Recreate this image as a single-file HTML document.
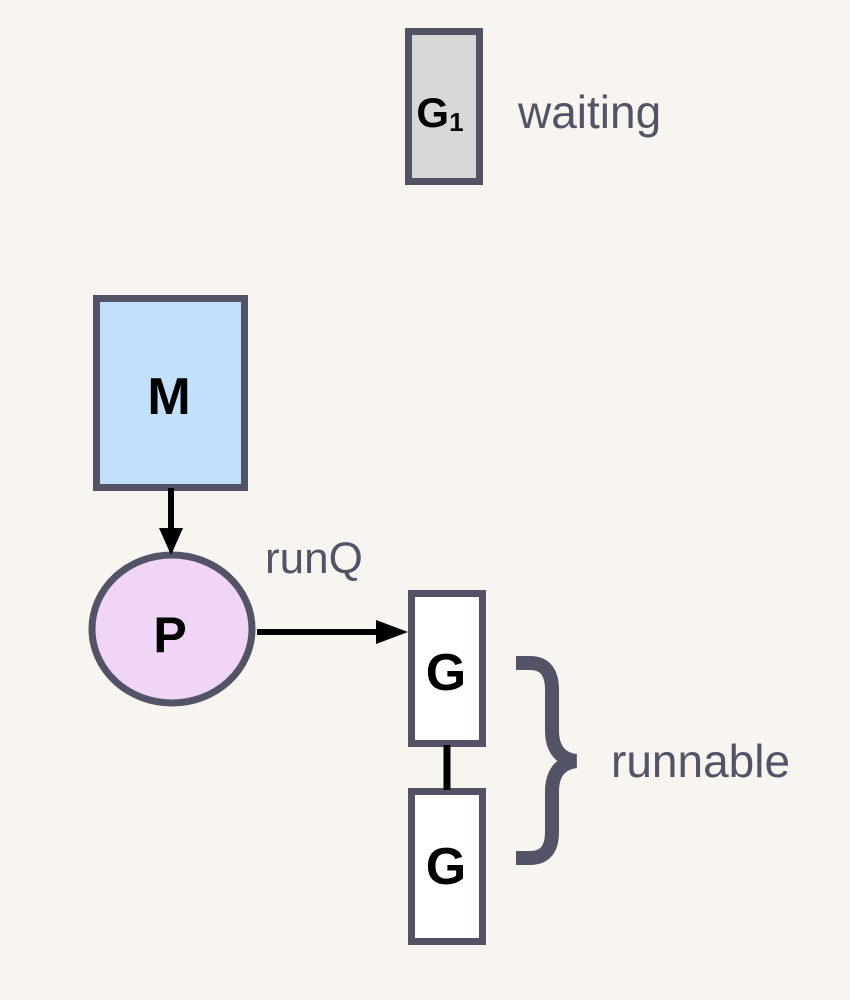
<!DOCTYPE html>
<html><head><meta charset="utf-8"><style>
html,body{margin:0;padding:0;background:#f8f5f0;}
svg{display:block;}
</style></head><body>
<svg width="850" height="1000" viewBox="0 0 850 1000" xmlns="http://www.w3.org/2000/svg">
<rect width="850" height="1000" fill="#f8f5f0"/>
<g stroke="#525366" stroke-width="7">
<rect x="408.5" y="31.5" width="71" height="150" fill="#d8d8d8"/>
<rect x="96.5" y="298.5" width="148" height="189" fill="#c3e0fb"/>
<ellipse cx="172" cy="629" rx="80" ry="74" fill="#f0d5f7"/>
<rect x="411.5" y="593.5" width="71" height="150" fill="#fff"/>
<rect x="411.5" y="791.5" width="71" height="150" fill="#fff"/>
</g>
<line x1="447" y1="745" x2="447" y2="790" stroke="#000" stroke-width="7"/>
<line x1="171" y1="488" x2="171" y2="530" stroke="#000" stroke-width="6"/>
<polygon points="159,528 183,528 171,555" fill="#000"/>
<line x1="257" y1="632" x2="380" y2="632" stroke="#000" stroke-width="6"/>
<polygon points="376,620 376,644 408,632" fill="#000"/>
<path d="M516,663 L530,663 Q552,663 552,690 L552,730 Q552,758 576,761 Q552,764 552,792 L552,832 Q552,858 530,858 L516,858" fill="none" stroke="#525366" stroke-width="14"/>
<g font-family="Liberation Sans, sans-serif" font-weight="bold" fill="#000" text-anchor="middle">
<text x="440" y="127" font-size="42">G<tspan font-size="26" dy="4">1</tspan></text>
<text x="169" y="414" font-size="52">M</text>
<text x="170" y="652" font-size="50">P</text>
<text x="446" y="690" font-size="52">G</text>
<text x="446" y="884" font-size="52">G</text>
</g>
<g font-family="Liberation Sans, sans-serif" fill="#525366" font-size="46">
<text x="518" y="128">waiting</text>
<text x="265" y="573" font-size="44">runQ</text>
<text x="611" y="777">runnable</text>
</g>
</svg>
</body></html>
